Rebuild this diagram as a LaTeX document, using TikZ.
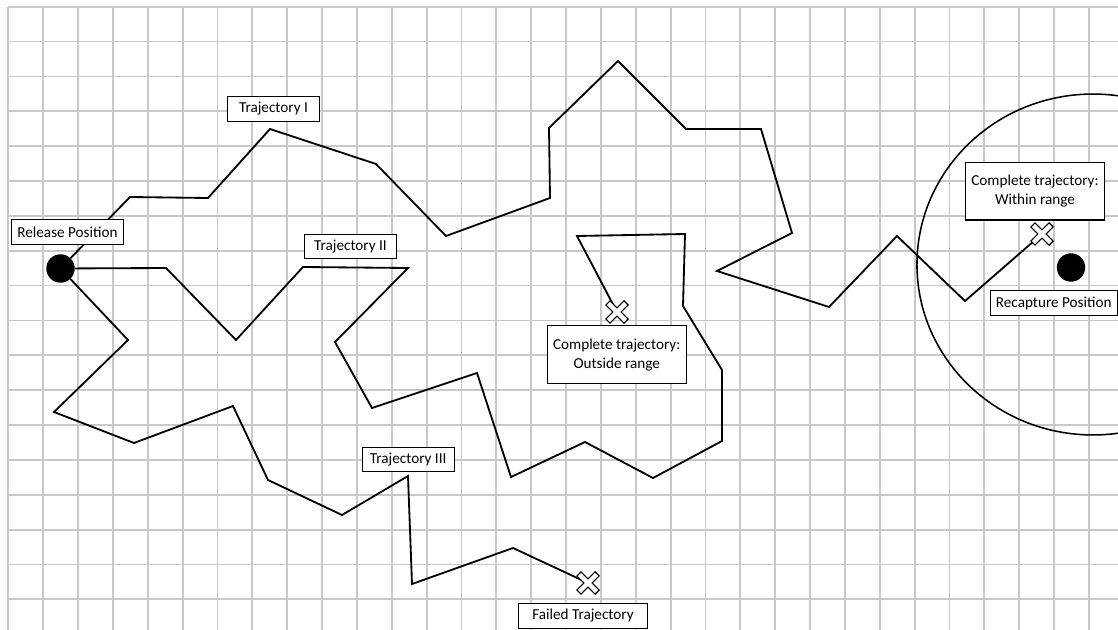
\documentclass[tikz,border=0pt]{standalone}
\usepackage{fontspec}
\setmainfont{Carlito}
\usepackage{tikz}
\definecolor{gridgray}{RGB}{200,200,200}
\tikzset{
  gridline/.style={draw=gridgray, line width=1.3pt, line cap=square},
  track/.style={draw=black, line width=1.3pt, line join=miter},
  tag/.style={draw, fill=white, line width=0.8pt, inner sep=0pt, minimum height=0.62cm,
    align=center, font=\fontsize{10.8}{13.3}\selectfont},
  blob/.style={circle, fill=black, inner sep=0pt, minimum size=0.71cm},
  xcross/.pic={
    \draw[line width=5pt] (-9.5,-9.5) -- (9.5,9.5) (-9.5,9.5) -- (9.5,-9.5);
    \draw[white, line width=3.1pt] (-8.6,-8.6) -- (8.6,8.6) (-8.6,8.6) -- (8.6,-8.6);
  }
}

\begin{document}
\begin{tikzpicture}[x=0.025cm, y=-0.025cm]
		\useasboundingbox (0,0) rectangle (1118,630);
		\begin{scope}
			\clip (0,0) rectangle (1118,630);
			% Grid
			\foreach \i in {0,...,31}
				\draw[gridline] ({8.3+34.86*\i},6.7) -- ({8.3+34.86*\i},640);
			\foreach \j in {0,...,17}
				\draw[gridline] (8.3,{6.7+34.86*\j}) -- (1130,{6.7+34.86*\j});
		\end{scope}

		% Define nodes
		\node[blob] (Rel) at (60.5,268.5) {};
		\node[blob] (Rec) at (1071,267.5) {};
		\coordinate (XI) at (1042,234);
		\coordinate (XII) at (617,312);
		\coordinate (XIII) at (588,583);

		% Range of the recapture position
		\draw[line width=1.1pt] (1093,264.5) ellipse [x radius=4.4cm, y radius=4.26cm];

		% Connect the nodes
		\draw[track] (Rel) -- (130,197) -- (208,198) -- (270,129) -- (376,164) -- (446,236)
			-- (550,198) -- (549,128) -- (618,61) -- (686,129) -- (761,129) -- (792,233)
			-- (717,271) -- (829,307) -- (897,236) -- (965,301) -- (XI);
		\draw[track] (Rel) -- (166,268) -- (236,340) -- (303,267) -- (408,268) -- (335,342)
			-- (372,408) -- (477,373) -- (511,477) -- (585,442) -- (653,478) -- (722,441)
			-- (722,370) -- (683,306) -- (685,234) -- (577,236) -- (XII);
		\draw[track] (Rel) -- (128,340) -- (54,412) -- (134,443) -- (233,406) -- (268,480)
			-- (342,515) -- (408,476) -- (412,584) -- (513,548) -- (XIII);
		\pic at (XI) {xcross};
		\pic at (XII) {xcross};
		\pic at (XIII) {xcross};

		% Labels
		\node[tag, minimum width=2.79cm] (LRel) at (67.5,232) {Release Position};
		\node[tag, minimum width=2.3cm] (LI) at (273.5,108.8) {Trajectory I};
		\node[tag, minimum width=2.3cm] (LII) at (350.5,246.5) {Trajectory II};
		\node[tag, minimum width=2.3cm] (LIII) at (408.2,459.5) {Trajectory III};
		\node[tag, minimum width=3.47cm, minimum height=1.44cm] (LXII) at (616.7,354.7) {Complete trajectory:\\Outside range};
		\node[tag, minimum width=3.47cm, minimum height=1.44cm] (LXI) at (1035,191.2) {Complete trajectory:\\Within range};
		\node[tag, minimum width=3.18cm] (LRec) at (1053.7,303) {Recapture Position};
		\node[tag, minimum width=3.21cm] (LXIII) at (583,615.8) {Failed Trajectory};
	\end{tikzpicture}
\end{document}
